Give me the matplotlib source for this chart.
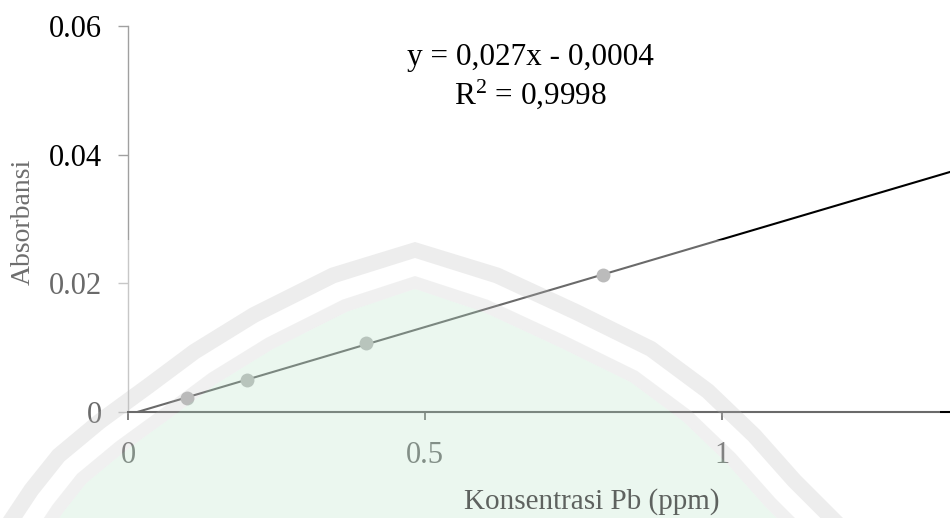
import numpy as np
import matplotlib
matplotlib.use("Agg")
import matplotlib.pyplot as plt
from matplotlib.patches import Polygon, Rectangle

# ---- data ----
konsentrasi = [0.1, 0.2, 0.4, 0.8]           # ppm
absorbansi = [0.0022, 0.0050, 0.0107, 0.0213]
x_ticks = [0, 0.5, 1]
x_tick_labels = ["0", "0.5", "1"]
y_ticks = [0, 0.02, 0.04, 0.06]
y_tick_labels = ["0", "0.02", "0.04", "0.06"]
equation_text = "y = 0,027x - 0,0004"
r2_text = r"R$^{\mathrm{2}}$ = 0,9998"

plt.rcParams["font.family"] = ["Liberation Serif", "DejaVu Serif"]
plt.rcParams["mathtext.fontset"] = "custom"
plt.rcParams["mathtext.rm"] = "Liberation Serif"
plt.rcParams["mathtext.it"] = "Liberation Serif:italic"

W, H = 950, 518
fig = plt.figure(figsize=(W / 100, H / 100), dpi=100)

ax = fig.add_axes([128 / W, (H - 412) / H, 1 - 128 / W, (412 - 26) / H])
ax.patch.set_alpha(0)

xmax = (W - 128) / 594.0
ax.set_xlim(0, xmax)
ax.set_ylim(0, 0.06)

# trendline (linear fit of the data)
slope, intercept = np.polyfit(konsentrasi, absorbansi, 1)
xl = np.array([0, xmax])
ax.plot(xl, slope * xl + intercept, color="#000000", lw=1.5, zorder=3)

ax.plot(konsentrasi, absorbansi, "o", color="#8a8a8a", markersize=10,
        markeredgewidth=0, zorder=4, clip_on=False)

for s in ["top", "right"]:
    ax.spines[s].set_visible(False)
ax.spines["left"].set_color("#a0a0a0")
ax.spines["left"].set_linewidth(1.0)
ax.spines["bottom"].set_color("#000000")
ax.spines["bottom"].set_linewidth(1.5)

ax.set_xticks(x_ticks)
ax.set_xticklabels(x_tick_labels)
ax.set_yticks(y_ticks)
ax.set_yticklabels(y_tick_labels)
ax.tick_params(axis="x", direction="out", length=6, width=1.2, color="#000000",
               labelsize=22, labelcolor="#111111", pad=15)
ax.tick_params(axis="y", direction="out", length=7, width=1.0, color="#a0a0a0",
               labelsize=22, labelcolor="#000000", pad=12)

fig.text(23 / W, 1 - 222 / H, "Absorbansi", rotation=90, ha="center", va="center",
         fontsize=20, color="#6e6e6e")
fig.text(592 / W, 1 - 502 / H, "Konsentrasi Pb (ppm)", ha="center", va="center",
         fontsize=21, color="#5e625f", zorder=12)

fig.text(530 / W, 1 - 58 / H, equation_text, ha="center", va="center",
         fontsize=22.5, color="#000000")
fig.text(530 / W, 1 - 94 / H, r2_text, ha="center", va="center",
         fontsize=22.5, color="#000000")

# ---- faint watermark overlay (decoration on top of the chart) ----
def fc(pts):
    return [(x / W, 1 - y / H) for x, y in pts]

fig.add_artist(Rectangle((40 / W, 0), (940 - 40) / W, (H - 240) / H,
                         transform=fig.transFigure, facecolor="white",
                         edgecolor="none", alpha=0.42, zorder=10))

edge = np.array([(-20, 555), (3, 518), (25, 485), (53, 450), (95, 415),
                 (143, 380), (190, 345), (250, 308), (330, 268), (415, 242),
                 (500, 268), (580, 305), (655, 342), (713, 385), (760, 430),
                 (800, 475), (843, 518), (870, 550)], dtype=float)

def offset(p, d):
    t = np.gradient(p, axis=0)
    t /= np.linalg.norm(t, axis=1, keepdims=True)
    n = np.column_stack([-t[:, 1], t[:, 0]])
    return p + d * n

def band(d1, d2):
    a = offset(edge, d1)
    b = offset(edge, d2)[::-1]
    return np.vstack([a, b])

wm_gray = "#b8b8b8"
fig.add_artist(Polygon(fc(band(0, 16)), closed=True, facecolor=wm_gray,
                       edgecolor="none", alpha=0.25, transform=fig.transFigure, zorder=11))
fig.add_artist(Polygon(fc(band(34, 47)), closed=True, facecolor=wm_gray,
                       edgecolor="none", alpha=0.2, transform=fig.transFigure, zorder=11))
g = offset(edge, 47)
g = np.vstack([g, [(g[-1, 0], 700), (g[0, 0], 700)]])
fig.add_artist(Polygon(fc(g), closed=True, facecolor="#b0e0c2",
                       edgecolor="none", alpha=0.25, transform=fig.transFigure, zorder=11))

fig.savefig("out.png", dpi=100)
